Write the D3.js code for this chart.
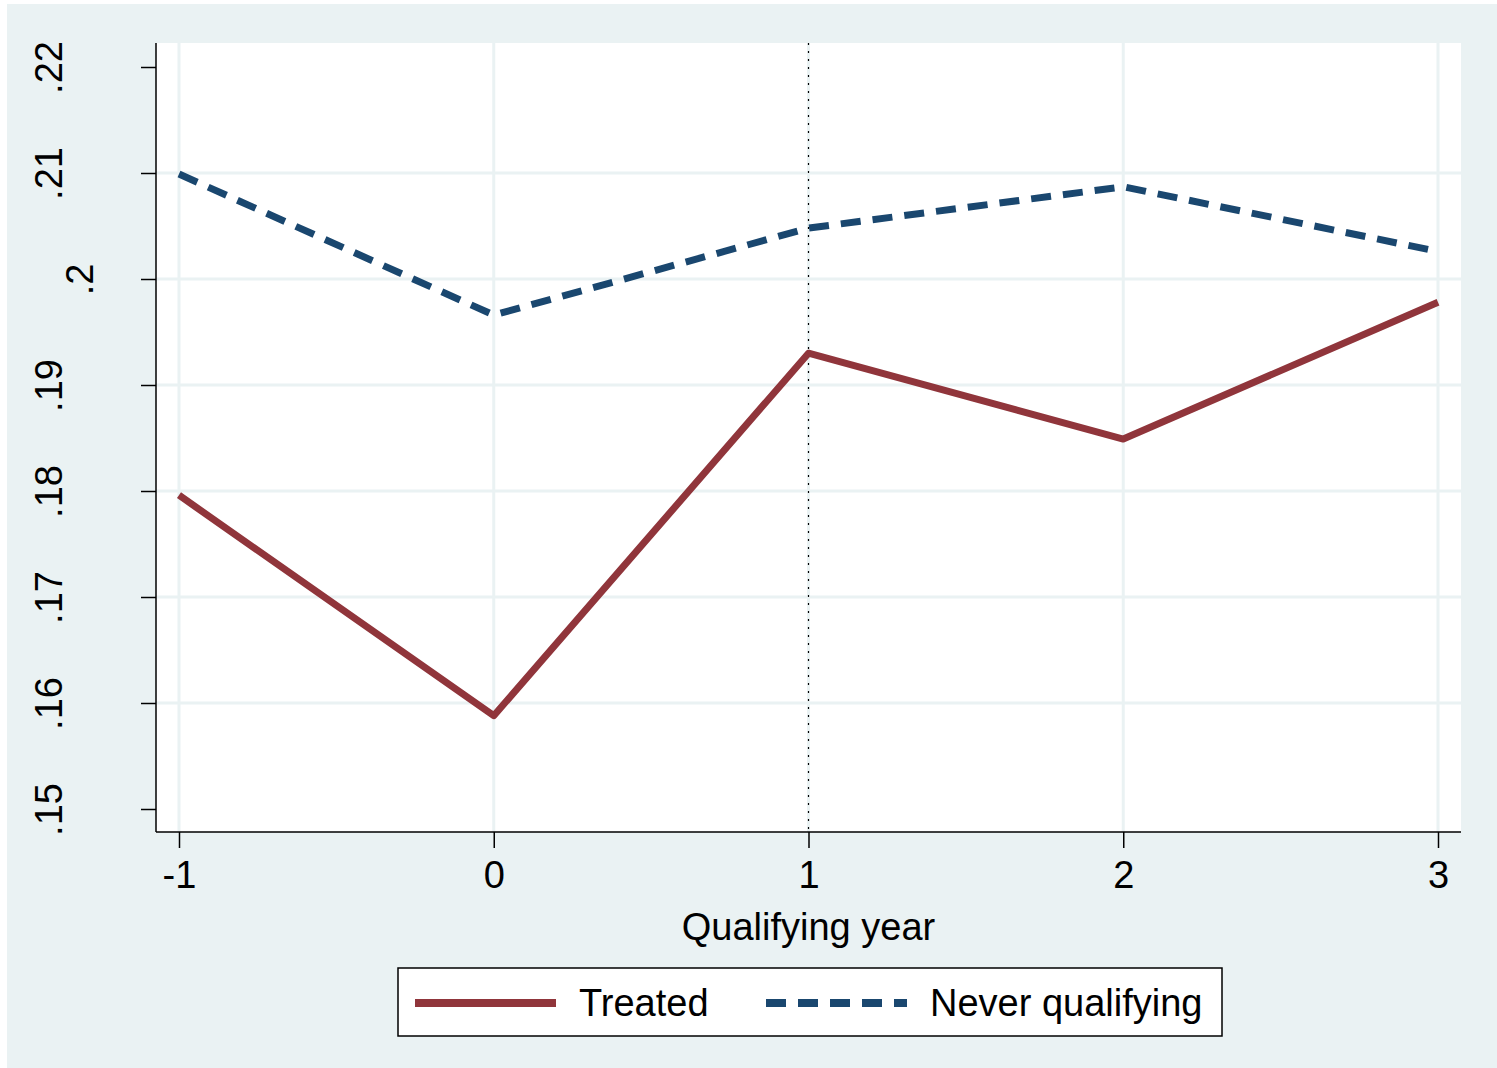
<!DOCTYPE html>
<html lang="en">
<head>
    <meta charset="UTF-8">
    <title>Qualifying year</title>
    <script src="https://cdn.jsdelivr.net/npm/d3@7"></script>
    <style>
        body { margin: 0; background: #fff; }
        text { font-family: "Liberation Sans", Arial, sans-serif; fill: #000; }
    </style>
</head>
<body>
    <script>
        // data
        var years = [-1, 0, 1, 2, 3];
        var treated = [0.1796, 0.1588, 0.1930, 0.1849, 0.1978];
        var never = [0.2099, 0.1966, 0.2048, 0.2087, 0.2026];
        var yTicks = [0.15, 0.16, 0.17, 0.18, 0.19, 0.20, 0.21, 0.22];
        var yTickLabels = [".15", ".16", ".17", ".18", ".19", ".2", ".21", ".22"];
        var xTickLabels = ["-1", "0", "1", "2", "3"];
        var refYear = 1;

        var w = 1497, h = 1068;
        var bg = "#eaf2f3";
        var fs = 38;
        var svg = d3.select("body").append("svg")
            .attr("width", w)
            .attr("height", h);

        // graph region
        svg.append("rect").attr("x", 7).attr("y", 4).attr("width", w - 7).attr("height", h - 4).attr("fill", bg);

        var plot = {left: 156, right: 1461, top: 43, bottom: 832};
        svg.append("rect")
            .attr("x", plot.left).attr("y", plot.top)
            .attr("width", plot.right - plot.left).attr("height", plot.bottom - plot.top)
            .attr("fill", "#fff");

        var x = d3.scaleLinear().domain([-1, 3]).range([179, 1438]);
        var y = d3.scaleLinear().domain([0.15, 0.22]).range([809, 67]);

        // grid
        var grid = svg.append("g");
        grid.selectAll("line.h").data(yTicks.slice(1, -1)).enter().append("line")
            .attr("x1", plot.left).attr("x2", plot.right)
            .attr("y1", function(d){ return y(d); })
            .attr("y2", function(d){ return y(d); })
            .attr("stroke", bg).attr("stroke-width", 3);
        grid.selectAll("line.v").data(years).enter().append("line")
            .attr("y1", plot.top).attr("y2", plot.bottom)
            .attr("x1", function(d){ return x(d); })
            .attr("x2", function(d){ return x(d); })
            .attr("stroke", bg).attr("stroke-width", 3);

        // reference line
        svg.append("line")
            .attr("x1", x(refYear)).attr("x2", x(refYear))
            .attr("y1", plot.top).attr("y2", plot.bottom)
            .attr("stroke", "#000").attr("stroke-width", 1.2)
            .attr("stroke-dasharray", "2,6");

        // series
        var line = d3.line()
            .x(function(d){ return x(d[0]); })
            .y(function(d){ return y(d[1]); });

        svg.append("path")
            .datum(d3.zip(years, never))
            .attr("d", line)
            .attr("fill", "none")
            .attr("stroke", "#1a476f")
            .attr("stroke-width", 7)
            .attr("stroke-dasharray", "20,12");

        svg.append("path")
            .datum(d3.zip(years, treated))
            .attr("d", line)
            .attr("fill", "none")
            .attr("stroke", "#90353b")
            .attr("stroke-width", 7)
            .attr("stroke-linejoin", "round");

        // axes
        var yAxis = d3.axisLeft(y)
            .tickValues(yTicks)
            .tickSize(15)
            .tickSizeOuter(0)
            .tickFormat(function(d, i){ return yTickLabels[i]; });
        var gy = svg.append("g").attr("transform", "translate(" + plot.left + ",0)").call(yAxis);
        gy.select(".domain").attr("d", "M0," + plot.top + "V" + plot.bottom);
        // short labels sit closer to the axis (stata does that)
        gy.selectAll("text")
            .attr("transform", "rotate(-90)")
            .attr("x", 0)
            .attr("y", function(d, i){ return -94 + (3 - yTickLabels[i].length) * 31; })
            .attr("dy", 0)
            .attr("text-anchor", "middle")
            .attr("font-size", fs)
            .attr("font-family", "Liberation Sans, Arial, sans-serif");

        var xAxis = d3.axisBottom(x)
            .tickValues(years)
            .tickSize(16)
            .tickSizeOuter(0)
            .tickFormat(function(d, i){ return xTickLabels[i]; });
        var gx = svg.append("g").attr("transform", "translate(0," + plot.bottom + ")").call(xAxis);
        gx.select(".domain").attr("d", "M" + plot.left + ",0H" + plot.right);
        gx.selectAll("text")
            .attr("y", 56).attr("dy", 0)
            .attr("font-size", fs)
            .attr("font-family", "Liberation Sans, Arial, sans-serif");

        svg.selectAll(".domain, .tick line").attr("stroke", "#000").attr("stroke-width", 1.5);

        svg.append("text")
            .attr("x", x(1)).attr("y", 940)
            .attr("text-anchor", "middle")
            .attr("font-size", fs)
            .text("Qualifying year");

        // legend
        var lg = svg.append("g");
        lg.append("rect")
            .attr("x", 398).attr("y", 968).attr("width", 824).attr("height", 68)
            .attr("fill", "#fff").attr("stroke", "#000").attr("stroke-width", 1.5);
        var items = [
            {name: "Treated", color: "#90353b", dash: null, x: 415},
            {name: "Never qualifying", color: "#1a476f", dash: "20,12", x: 766}
        ];
        items.forEach(function(it){
            lg.append("line")
                .attr("x1", it.x).attr("x2", it.x + 141)
                .attr("y1", 1003).attr("y2", 1003)
                .attr("stroke", it.color).attr("stroke-width", 8)
                .attr("stroke-dasharray", it.dash);
            lg.append("text")
                .attr("x", it.x + 164).attr("y", 1016)
                .attr("font-size", fs)
                .text(it.name);
        });
    </script>
</body>
</html>
